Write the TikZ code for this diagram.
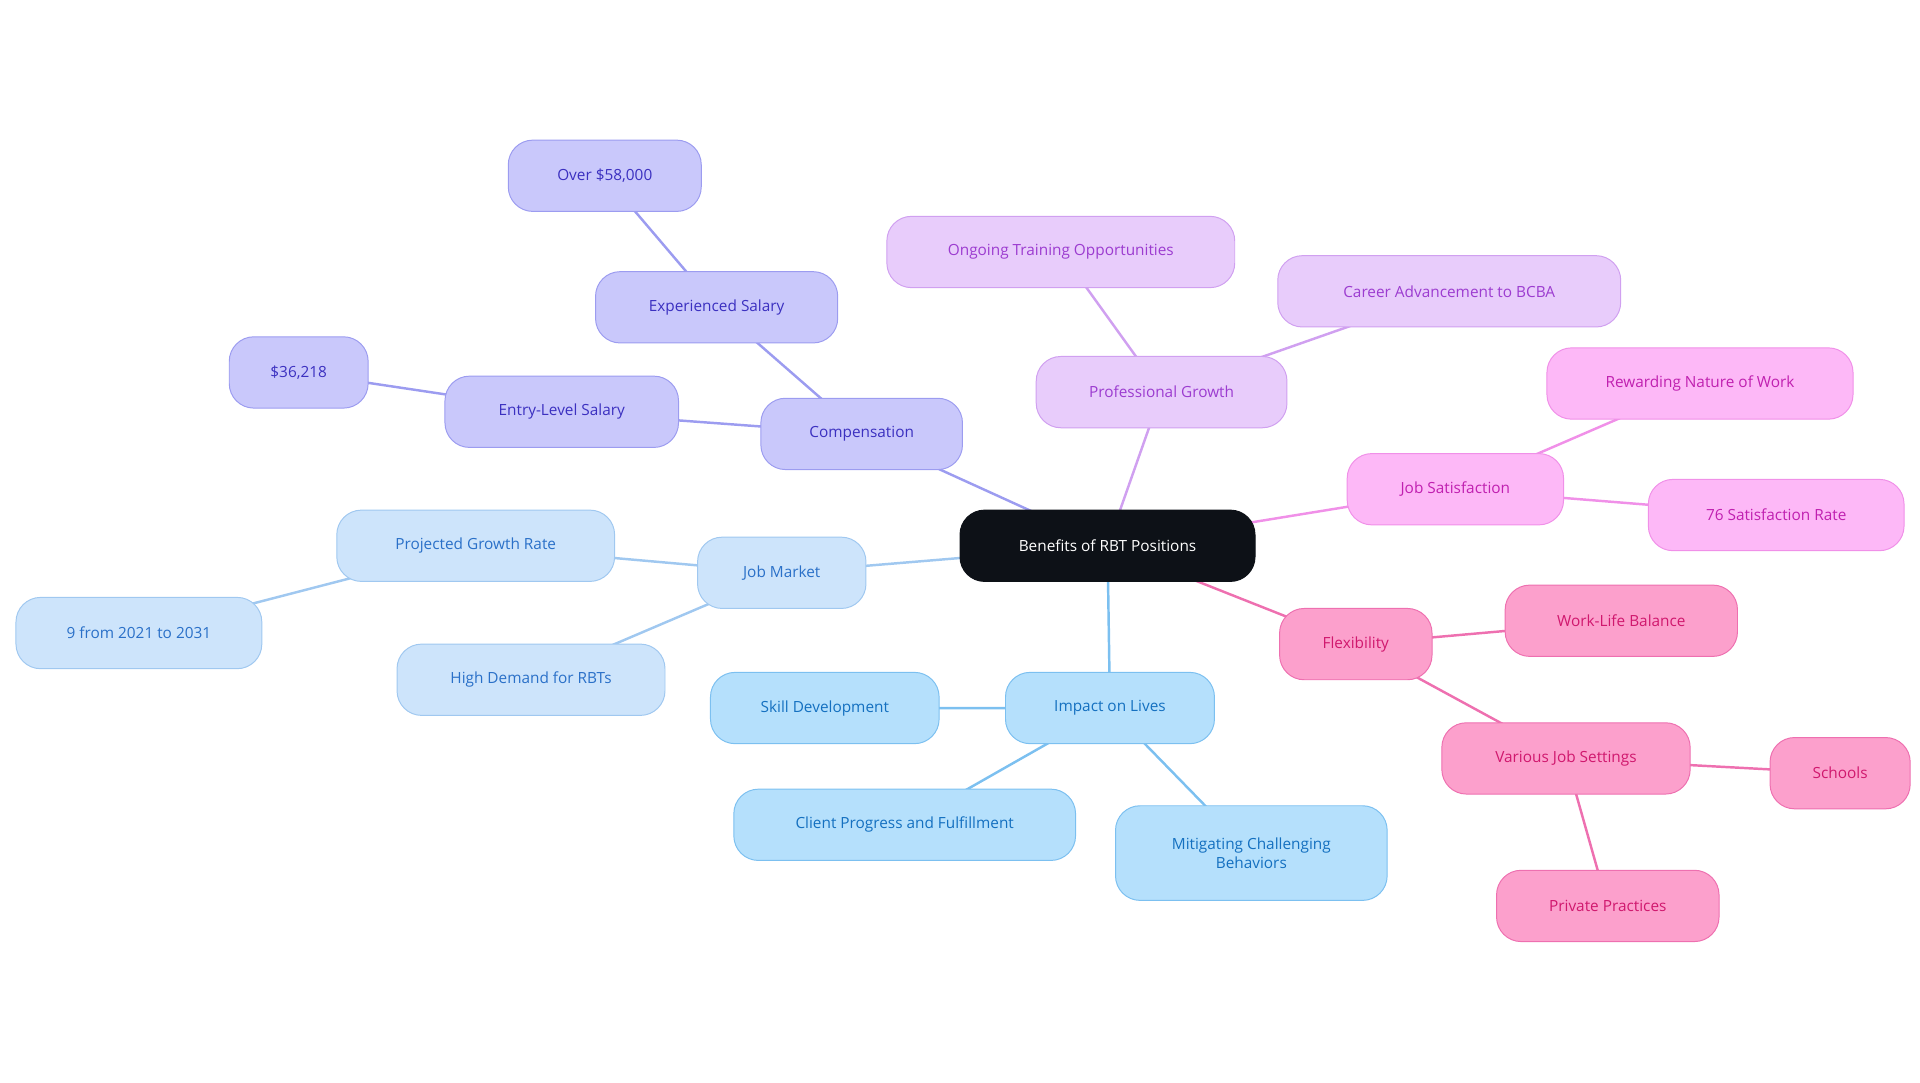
\documentclass[tikz,border=0pt]{standalone}
\usepackage{fontspec}
\setmainfont{Open Sans}
\usetikzlibrary{backgrounds}
\definecolor{cF}{HTML}{C9C8FB}\definecolor{cB}{HTML}{9C9CF0}\definecolor{cT}{HTML}{3B30C0}
\definecolor{pF}{HTML}{E8CCFB}\definecolor{pB}{HTML}{D0A0F0}\definecolor{pT}{HTML}{9C3CD0}
\definecolor{sF}{HTML}{FDB8F7}\definecolor{sB}{HTML}{F090E8}\definecolor{sT}{HTML}{C020B0}
\definecolor{fF}{HTML}{FCA0CC}\definecolor{fB}{HTML}{EE70B0}\definecolor{fT}{HTML}{D0186E}
\definecolor{iF}{HTML}{B5E0FC}\definecolor{iB}{HTML}{7CC0F0}\definecolor{iT}{HTML}{1470C0}
\definecolor{mF}{HTML}{CDE4FB}\definecolor{mB}{HTML}{A0C8F0}\definecolor{mT}{HTML}{2A70C8}
\definecolor{ctr}{HTML}{0D1117}
\begin{document}
\begin{tikzpicture}[x=1pt,y=-1pt,
 box/.style={rounded corners=20pt,minimum height=58pt,inner sep=0pt,font=\fontsize{12.5}{15}\selectfont,align=center,line width=0.8pt},
 comp/.style={box,fill=cF,draw=cB,text=cT}, prof/.style={box,fill=pF,draw=pB,text=pT},
 sat/.style={box,fill=sF,draw=sB,text=sT}, flex/.style={box,fill=fF,draw=fB,text=fT},
 imp/.style={box,fill=iF,draw=iB,text=iT}, mkt/.style={box,fill=mF,draw=mB,text=mT},
 ln/.style={line width=2pt}]
\useasboundingbox (0,0) rectangle (1562,881);
\node[box,fill=ctr,draw=ctr,text=white,minimum width=240pt] (c) at (901,444) {Benefits of RBT Positions};
\node[comp,minimum width=164pt] (comp) at (701,353) {Compensation};
\node[comp,minimum width=197pt] (exp) at (583,250) {Experienced Salary};
\node[comp,minimum width=157pt] (o58) at (492,143) {Over \$58,000};
\node[comp,minimum width=190pt] (ent) at (457,335) {Entry-Level Salary};
\node[comp,minimum width=113pt] (s36) at (243,303) {\$36,218};
\node[mkt,minimum width=137pt] (jm) at (636,466) {Job Market};
\node[mkt,minimum width=226pt] (pgr) at (387,444) {Projected Growth Rate};
\node[mkt,minimum width=200pt] (n9) at (113,515) {9 from 2021 to 2031};
\node[mkt,minimum width=218pt] (hd) at (432,553) {High Demand for RBTs};
\node[imp,minimum width=170pt] (il) at (903,576) {Impact on Lives};
\node[imp,minimum width=186pt] (sd) at (671,576) {Skill Development};
\node[imp,minimum width=278pt] (cp) at (736,671) {Client Progress and Fulfillment};
\node[imp,minimum width=221pt,minimum height=77pt] (mcb) at (1018,694) {Mitigating Challenging\\Behaviors};
\node[prof,minimum width=204pt] (pg) at (945,319) {Professional Growth};
\node[prof,minimum width=283pt] (ot) at (863,205) {Ongoing Training Opportunities};
\node[prof,minimum width=279pt] (ca) at (1179,237) {Career Advancement to BCBA};
\node[sat,minimum width=176pt] (js) at (1184,398) {Job Satisfaction};
\node[sat,minimum width=249pt] (rn) at (1383,312) {Rewarding Nature of Work};
\node[sat,minimum width=208pt] (sr) at (1445,419) {76 Satisfaction Rate};
\node[flex,minimum width=124pt] (fl) at (1103,524) {Flexibility};
\node[flex,minimum width=189pt] (wl) at (1319,505) {Work-Life Balance};
\node[flex,minimum width=202pt] (vj) at (1274,617) {Various Job Settings};
\node[flex,minimum width=114pt] (sc) at (1497,629) {Schools};
\node[flex,minimum width=181pt] (pp) at (1308,737) {Private Practices};
\begin{scope}[on background layer]
\draw[ln,draw=cB] (c.center)--(comp.center) (comp.center)--(exp.center) (exp.center)--(o58.center) (comp.center)--(ent.center) (ent.center)--(s36.center);
\draw[ln,draw=mB] (c.center)--(jm.center) (jm.center)--(pgr.center) (pgr.center)--(n9.center) (jm.center)--(hd.center);
\draw[ln,draw=iB] (c.center)--(il.center) (il.center)--(sd.center) (il.center)--(cp.center) (il.center)--(mcb.center);
\draw[ln,draw=pB] (c.center)--(pg.center) (pg.center)--(ot.center) (pg.center)--(ca.center);
\draw[ln,draw=sB] (c.center)--(js.center) (js.center)--(rn.center) (js.center)--(sr.center);
\draw[ln,draw=fB] (c.center)--(fl.center) (fl.center)--(wl.center) (fl.center)--(vj.center) (vj.center)--(sc.center) (vj.center)--(pp.center);
\end{scope}
\end{tikzpicture}
\end{document}
